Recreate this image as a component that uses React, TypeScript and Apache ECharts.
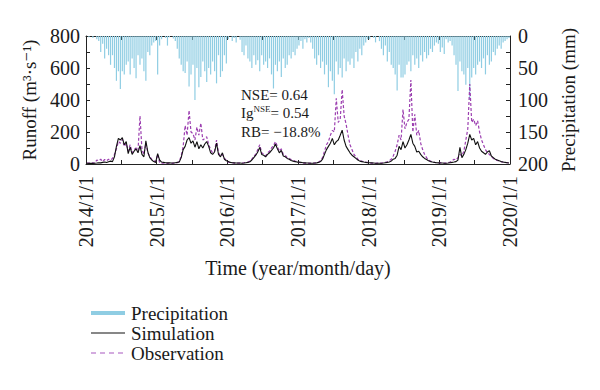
import React, { useEffect, useRef } from 'react';
import * as echarts from 'echarts';

// ---- data (10-day steps, 36 per year) ----
const years = [2014, 2015, 2016, 2017, 2018, 2019];
const stepsPerYear = 36;

// Precipitation (mm)
const precip2014 = [0,2,0,3,0,5,8,25,12,35,20,30,45,30,50,70,55,83,55,60,45,40,60,35,50,66,30,45,35,55,70,25,30,15,10,8];
const precip2015 = [60,15,5,0,3,15,2,0,4,8,20,35,45,55,58,40,79,60,45,100,50,80,64,40,55,72,50,60,40,55,74,30,64,55,30,43];
const precip2016 = [5,0,8,3,10,0,6,25,30,15,35,40,50,30,45,38,55,30,45,40,50,35,60,82,45,55,40,64,35,50,45,30,35,25,30,20];
const precip2017 = [15,8,20,5,10,3,10,20,35,45,30,50,40,60,45,80,55,70,91,40,60,50,65,35,55,40,45,35,50,25,40,20,30,15,10,5];
const precip2018 = [5,0,3,10,0,8,20,30,15,40,25,45,50,60,85,45,65,65,60,45,40,55,30,45,35,50,30,40,25,35,30,20,25,15,10,12];
const precip2019 = [25,18,28,5,10,8,15,30,45,86,40,55,60,76,50,100,65,50,60,45,40,50,35,60,30,45,40,25,30,20,15,20,10,8,5,3];

// Simulated runoff (m3/s)
const sim2014 = [5,4,4,4,5,6,8,7,10,12,9,14,18,15,45,110,160,150,165,120,140,65,105,60,80,95,70,115,60,45,145,75,40,25,15,10];
const sim2015 = [65,25,12,10,8,7,7,6,6,8,10,12,40,90,110,150,165,130,145,105,140,95,120,100,125,140,110,70,60,75,130,60,45,70,30,20];
const sim2016 = [15,10,8,7,6,6,6,5,6,8,10,14,25,40,55,75,104,60,55,45,60,70,85,100,125,95,70,85,50,45,35,30,22,18,15,12];
const sim2017 = [12,10,8,7,6,6,5,5,6,7,10,15,30,60,90,110,130,160,120,140,150,180,212,150,110,90,70,55,45,35,25,18,15,12,10,8];
const sim2018 = [8,7,6,5,5,5,5,6,8,10,12,18,30,35,55,110,90,140,100,120,150,185,130,110,75,80,60,45,35,28,20,15,12,10,8,7];
const sim2019 = [6,6,5,5,6,8,10,12,15,25,104,40,60,90,130,185,150,160,120,140,100,80,70,60,75,83,50,40,30,25,20,15,12,10,8,6];

// Observed runoff (m3/s)
const obs2014 = [5,6,4,8,6,25,20,30,15,28,20,30,25,35,60,95,140,130,155,110,130,80,120,70,90,100,85,300,90,60,130,70,45,30,20,15];
const obs2015 = [60,8,6,5,5,4,5,4,5,6,8,15,50,110,240,180,335,200,190,150,230,180,256,150,160,170,120,90,70,80,150,70,50,60,35,25];
const obs2016 = [12,10,8,6,5,5,6,6,8,10,12,18,30,50,60,90,120,70,60,50,70,80,100,115,140,110,80,95,60,55,40,35,28,22,18,15];
const obs2017 = [10,8,6,5,5,4,5,5,6,8,12,20,40,80,120,140,180,210,200,410,260,280,465,300,250,180,120,90,60,45,30,22,18,15,12,10];
const obs2018 = [6,5,5,4,5,5,6,8,10,14,20,30,50,80,120,180,150,340,220,260,280,525,200,310,180,210,130,90,60,40,25,18,14,10,8,7];
const obs2019 = [8,7,6,6,8,12,20,30,25,40,60,50,80,150,220,500,260,280,240,270,200,150,120,90,70,60,45,35,28,22,18,14,12,10,8,7];

const seriesNames = ['Precipitation', 'Simulation', 'Observation'];
const statLines = ['NSE= 0.64', 'Ig', 'NSE', '= 0.54', 'RB= \u221218.8%'];

function toPairs(byYear: number[][]): [number, number][] {
  const out: [number, number][] = [];
  byYear.forEach((arr, yi) => {
    arr.forEach((v, d) => {
      out.push([years[yi] + (d + 0.5) / stepsPerYear, v]);
    });
  });
  return out;
}

const FONT = '"Liberation Serif", "DejaVu Serif", "Times New Roman", serif';
const TXT = '#1a1a1a';
const AX = '#222';

// legend icons (34 x 20 boxes; the corner moves fix the box size)
const BOX = 'M0,0L0,0M34,20L34,20';
const ICON_BAR = `path://${BOX}M0,8L34,8L34,12L0,12Z`;
const ICON_SOLID = `path://${BOX}M0,9.4L34,9.4L34,10.6L0,10.6Z`;
const ICON_DASH = `path://${BOX}M0,9.4L5,9.4L5,10.6L0,10.6ZM9,9.4L14,9.4L14,10.6L9,10.6ZM18,9.4L23,9.4L23,10.6L18,10.6ZM27,9.4L32,9.4L32,10.6L27,10.6Z`;

export default function App() {
  const ref = useRef<HTMLDivElement>(null);
  useEffect(() => {
    if (!ref.current) return;
    const chart = echarts.init(ref.current, undefined, { renderer: 'svg' });
    const precipData = toPairs([precip2014, precip2015, precip2016, precip2017, precip2018, precip2019]);
    const simData = toPairs([sim2014, sim2015, sim2016, sim2017, sim2018, sim2019]);
    const obsData = toPairs([obs2014, obs2015, obs2016, obs2017, obs2018, obs2019]);

    const axisLine = { show: true, lineStyle: { color: AX, width: 1 } };
    const axisTick = { show: true, inside: true, length: 4, lineStyle: { color: AX, width: 1 } };

    chart.setOption({
      animation: false,
      backgroundColor: '#fff',
      textStyle: { fontFamily: FONT, color: TXT },
      grid: { left: 86, right: 90, top: 36, bottom: 226, show: false },
      xAxis: [
        {
          type: 'value', min: 2014, max: 2020, interval: 0.5, position: 'bottom',
          axisLine, axisTick, splitLine: { show: false },
          axisLabel: {
            rotate: 90, margin: 12, fontSize: 20, fontFamily: FONT, color: TXT,
            formatter: (v: number) => (Number.isInteger(v) ? `${v}/1/1` : ''),
          },
          name: 'Time (year/month/day)', nameLocation: 'middle', nameGap: 94,
          nameTextStyle: { fontSize: 20, fontFamily: FONT, color: TXT },
        },
        {
          type: 'value', min: 2014, max: 2020, interval: 0.5, position: 'top',
          axisLine, axisTick, splitLine: { show: false }, axisLabel: { show: false },
        },
      ],
      yAxis: [
        {
          type: 'value', min: 0, max: 800, interval: 100, position: 'left',
          axisLine, axisTick, splitLine: { show: false },
          axisLabel: {
            margin: 6, fontSize: 20, fontFamily: FONT, color: TXT,
            formatter: (v: number) => (v % 200 === 0 ? String(v) : ''),
          },
          name: 'Runoff (m\u00B3\u00B7s\u207B\u00B9)', nameLocation: 'middle', nameGap: 47,
          nameTextStyle: { fontSize: 19, fontFamily: FONT, color: TXT },
        },
        {
          type: 'value', min: 0, max: 200, interval: 25, inverse: true, position: 'right',
          axisLine, axisTick, splitLine: { show: false },
          axisLabel: {
            margin: 8, fontSize: 20, fontFamily: FONT, color: TXT,
            formatter: (v: number) => (v % 50 === 0 ? String(v) : ''),
          },
          name: 'Precipitation (mm)', nameLocation: 'middle', nameGap: 46,
          nameTextStyle: { fontSize: 19, fontFamily: FONT, color: TXT },
        },
      ],
      legend: {
        orient: 'vertical', left: 86, top: 298, itemWidth: 34, itemHeight: 20, itemGap: 0,
        textStyle: { fontSize: 19, fontFamily: FONT, color: TXT, lineHeight: 20, padding: [0, 0, 0, 1] },
        data: [
          { name: seriesNames[0], icon: ICON_BAR },
          { name: seriesNames[1], icon: ICON_SOLID },
          { name: seriesNames[2], icon: ICON_DASH },
        ],
      },
      graphic: [
        {
          type: 'text', x: 241, y: 95,
          style: { text: statLines[0], fontSize: 15, fontFamily: FONT, fill: TXT, verticalAlign: 'middle' },
        },
        {
          type: 'text', x: 241, y: 113,
          style: {
            text: `{n|${statLines[1]}}{s|${statLines[2]}}{n|${statLines[3]}}`,
            verticalAlign: 'middle', fill: TXT,
            rich: {
              n: { fontSize: 15, fontFamily: FONT, fill: TXT, lineHeight: 17 },
              s: { fontSize: 9, fontFamily: FONT, fill: TXT, lineHeight: 10, verticalAlign: 'top' },
            },
          },
        },
        {
          type: 'text', x: 241, y: 131.5,
          style: { text: statLines[4], fontSize: 15, fontFamily: FONT, fill: TXT, verticalAlign: 'middle' },
        },
      ],
      series: [
        {
          name: seriesNames[0], type: 'bar', xAxisIndex: 0, yAxisIndex: 1,
          data: precipData, barWidth: 1.2, itemStyle: { color: '#8fcde3' },
        },
        {
          name: seriesNames[2], type: 'line', xAxisIndex: 0, yAxisIndex: 0,
          data: obsData, symbol: 'none',
          lineStyle: { color: '#9c3fb0', width: 1.2, type: [3, 2] }, itemStyle: { color: '#a858c0' },
        },
        {
          name: seriesNames[1], type: 'line', xAxisIndex: 0, yAxisIndex: 0,
          data: simData, symbol: 'none',
          lineStyle: { color: '#111', width: 1.1 }, itemStyle: { color: '#111' },
        },
      ],
    });
    return () => chart.dispose();
  }, []);
  return (
    <div
      ref={ref}
      style={{ position: 'absolute', left: 0, top: 0, width: 600, height: 390, background: '#fff' }}
    />
  );
}
